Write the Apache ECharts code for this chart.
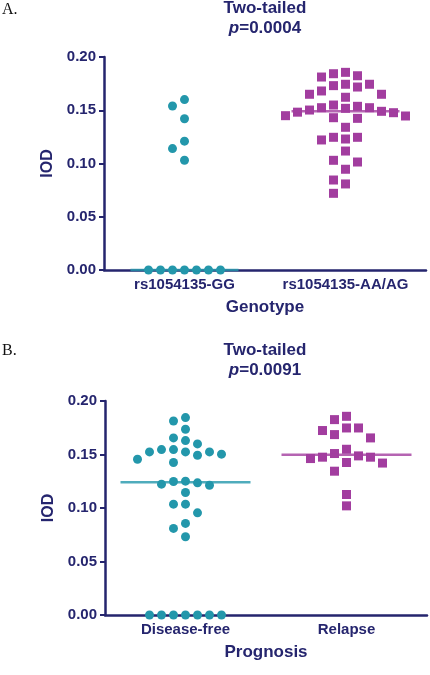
<!DOCTYPE html>
<html><head><meta charset="utf-8">
<script src="https://cdn.jsdelivr.net/npm/echarts@6/dist/echarts.min.js"></script>
<style>html,body{margin:0;padding:0;background:#fff}#c{width:430px;height:675px}</style>
</head><body><div id="c"></div>
<script>
// ---- data ----
const catsA = ['rs1054135-GG', 'rs1054135-AA/AG'];
const catsB = ['Disease-free', 'Relapse'];
const yTickValues = [0, 0.05, 0.10, 0.15, 0.20];
const titleA = 'p=0.0004';
const titleB = 'p=0.0091';
const gg = [0.160, 0.154, 0.142, 0.121, 0.114, 0.103, 0, 0, 0, 0, 0, 0, 0];
const aaag = [0.1856, 0.1843, 0.1824, 0.1812, 0.1744, 0.1744, 0.1731, 0.1718,
  0.1681, 0.1650, 0.1650, 0.1622, 0.1549, 0.1537, 0.1524, 0.1524, 0.1518, 0.1502,
  0.1490, 0.1482, 0.1477, 0.1446, 0.1449, 0.1430, 0.1424, 0.1340, 0.1246, 0.1246,
  0.1230, 0.1221, 0.1117, 0.1030, 0.1014, 0.0946, 0.0845, 0.0808, 0.0720];
const diseaseFree = [0.1845, 0.1813, 0.1736, 0.1655, 0.1630, 0.1599, 0.1546, 0.1546,
  0.1524, 0.1524, 0.1524, 0.1503, 0.1493, 0.1456, 0.1425, 0.1251, 0.1248, 0.1235,
  0.1223, 0.1213, 0.1145, 0.1036, 0.1036, 0.0955, 0.0856, 0.0809, 0.0731,
  0, 0, 0, 0, 0, 0, 0];
const relapse = [0.1857, 0.1826, 0.1748, 0.1748, 0.1724, 0.1686, 0.1655, 0.1549,
  0.1509, 0.1487, 0.1475, 0.1475, 0.1462, 0.1425, 0.1420, 0.1344, 0.1126, 0.1020];

// ---- style ----
const NAVY = '#25256e', TEAL = '#2397ab', PURPLE = '#a23d9f';
const FONT = '"Liberation Sans", Arial, sans-serif';
const YMIN = 0, YMAX = 0.2;
const gridA = { left: 104, top: 57, width: 322, height: 213 };
const gridB = { left: 105, top: 401, width: 322, height: 214 };
const SLOT = 12, SYM = 9, DY = 11;

function median(arr) {
  const s = arr.slice().sort((a, b) => a - b);
  const n = s.length;
  return n % 2 ? s[(n - 1) / 2] : (s[n / 2 - 1] + s[n / 2]) / 2;
}
// greedy beeswarm: integer slots, collision in pixel space
function swarm(values, catIdx, gridH) {
  const ppu = gridH / (YMAX - YMIN);
  const order = values.map((v, i) => i).sort((a, b) => values[b] - values[a]);
  const placed = {};
  const out = [];
  order.forEach(i => {
    const py = values[i] * ppu;
    for (let k = 0; k < 40; k++) {
      const slot = k === 0 ? 0 : (k % 2 ? -Math.ceil(k / 2) : Math.ceil(k / 2));
      const list = placed[slot] || (placed[slot] = []);
      if (list.every(y => Math.abs(y - py) >= DY)) {
        list.push(py);
        out.push({ value: [catIdx, values[i]], symbolOffset: [slot * SLOT, 0] });
        break;
      }
    }
  });
  return out;
}
function xAxis(gi, cats) {
  return {
    type: 'category', gridIndex: gi, data: cats, boundaryGap: true,
    name: gi === 0 ? 'Genotype' : 'Prognosis', nameLocation: 'middle', nameGap: 29,
    nameTextStyle: { color: NAVY, fontFamily: FONT, fontWeight: 'bold', fontSize: 17 },
    axisLine: { lineStyle: { color: NAVY, width: 2.5 } },
    axisTick: { alignWithLabel: true, length: 4, lineStyle: { color: NAVY, width: 2 } },
    axisLabel: { color: NAVY, fontFamily: FONT, fontWeight: 'bold', fontSize: 15, margin: 7, interval: 0 },
    splitLine: { show: false }
  };
}
function yAxis(gi) {
  return {
    type: 'value', gridIndex: gi, min: YMIN, max: YMAX, interval: 0.05,
    name: 'IOD', nameLocation: 'middle', nameGap: 36, nameRotate: 90,
    nameTextStyle: { color: NAVY, fontFamily: FONT, fontWeight: 'bold', fontSize: 16 },
    axisLine: { show: true, lineStyle: { color: NAVY, width: 2.5 } },
    axisTick: { show: true, length: 5, lineStyle: { color: NAVY, width: 2 } },
    axisLabel: { color: NAVY, fontFamily: FONT, fontWeight: 'bold', fontSize: 15, margin: 8,
      formatter: v => v.toFixed(2) },
    splitLine: { show: false }
  };
}
function pts(values, ci, gi, grid, color, symbol) {
  return {
    type: 'scatter', xAxisIndex: gi, yAxisIndex: gi, clip: false, z: 3,
    symbol: symbol, symbolSize: SYM, itemStyle: { color: color, opacity: 1 },
    data: swarm(values, ci, grid.height), silent: true
  };
}
function med(values, ci, gi, color, w) {
  return {
    type: 'scatter', xAxisIndex: gi, yAxisIndex: gi, clip: false, z: 4,
    symbol: 'rect', symbolSize: [w, 2.5], itemStyle: { color: color },
    data: [[ci, median(values)]], silent: true
  };
}
function titleTexts(y1, ptxt) {
  const m = ptxt.match(/^p(.*)$/);
  const base = { fontFamily: FONT, fontWeight: 'bold', fontSize: 17, fill: NAVY };
  return [
    { type: 'text', x: 265, y: y1, style: Object.assign({ text: 'Two-tailed', align: 'center', verticalAlign: 'middle' }, base) },
    { type: 'text', x: 265, y: y1 + 20, style: Object.assign({
        text: '{i|p}{n|' + m[1] + '}', align: 'center', verticalAlign: 'middle',
        rich: { i: Object.assign({ fontStyle: 'italic' }, base), n: Object.assign({}, base) } }, base) }
  ];
}

const chart = echarts.init(document.getElementById('c'), null, { renderer: 'canvas' });
chart.setOption({
  animation: false,
  backgroundColor: '#fff',
  grid: [Object.assign({}, gridA), Object.assign({}, gridB)],
  xAxis: [xAxis(0, catsA), xAxis(1, catsB)],
  yAxis: [yAxis(0), yAxis(1)],
  graphic: [
    { type: 'text', x: 2, y: 2, style: { text: 'A.', fontFamily: '"Liberation Serif", serif', fontSize: 16, fill: '#111' } },
    { type: 'text', x: 2, y: 343, style: { text: 'B.', fontFamily: '"Liberation Serif", serif', fontSize: 16, fill: '#111' } }
  ].concat(titleTexts(8, titleA), titleTexts(350, titleB)),
  series: [
    pts(gg, 0, 0, gridA, TEAL, 'circle'),
    pts(aaag, 1, 0, gridA, PURPLE, 'rect'),
    med(gg, 0, 0, TEAL, 108),
    med(aaag, 1, 0, PURPLE, 108),
    pts(diseaseFree, 0, 1, gridB, TEAL, 'circle'),
    pts(relapse, 1, 1, gridB, PURPLE, 'rect'),
    med(diseaseFree, 0, 1, TEAL, 130),
    med(relapse, 1, 1, PURPLE, 130)
  ]
});
</script></body></html>
